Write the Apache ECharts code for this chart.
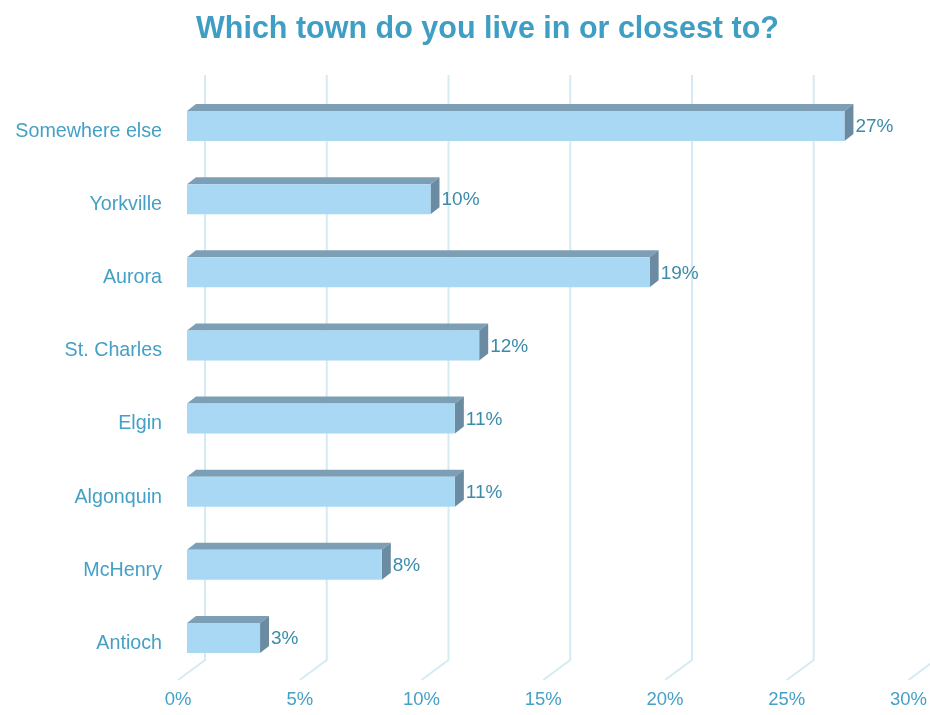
<!DOCTYPE html>
<html>
<head>
<meta charset="utf-8">
<script src="https://cdn.jsdelivr.net/npm/echarts@6/dist/echarts.min.js"></script>
<style>
  html, body { margin: 0; padding: 0; background: #fff; }
  #main { width: 930px; height: 715px; }
</style>
</head>
<body>
<div id="main"></div>
<script>
const categories = ['Somewhere else', 'Yorkville', 'Aurora', 'St. Charles', 'Elgin', 'Algonquin', 'McHenry', 'Antioch']
const values = [27, 10, 19, 12, 11, 11, 8, 3]
const tickValues = [0, 5, 10, 15, 20, 25, 30]

// oblique 3d look: floor depth and bar depth offsets (px)
const FLOOR = [27, -20]
const BAR_SHIFT = [9, -5.5]
const BAR_DEPTH = [9, -7]
const BAR_H = 30
const FONT = '"Liberation Sans", Arial, sans-serif'

const chart = echarts.init(document.getElementById('main'))

function renderWall(params, api) {
  const cs = params.coordSys
  const x = api.coord([api.value(0), 0])[0]
  const bottom = cs.y + cs.height
  return {
    type: 'polyline',
    shape: { points: [[x, bottom], [x + FLOOR[0], bottom + FLOOR[1]], [x + FLOOR[0], cs.y + FLOOR[1]]] },
    style: { stroke: '#d5ebf3', lineWidth: 2, fill: null }
  }
}

function renderBar(params, api) {
  const v = api.value(0)
  const i = api.value(1)
  const p0 = api.coord([0, i])
  const p1 = api.coord([v, i])
  const x0 = p0[0] + BAR_SHIFT[0]
  const x1 = p1[0] + BAR_SHIFT[0]
  const yc = p0[1] + BAR_SHIFT[1]
  const top = yc - BAR_H / 2
  const bot = yc + BAR_H / 2
  const dx = BAR_DEPTH[0], dy = BAR_DEPTH[1]
  return {
    type: 'group',
    children: [
      {
        type: 'polygon',
        shape: { points: [[x0, top], [x1, top], [x1 + dx, top + dy], [x0 + dx, top + dy]] },
        style: { fill: '#7c9fb5' }
      },
      {
        type: 'polygon',
        shape: { points: [[x1, top], [x1 + dx, top + dy], [x1 + dx, bot + dy], [x1, bot]] },
        style: { fill: '#6a8ba2' }
      },
      {
        type: 'rect',
        shape: { x: x0, y: top, width: x1 - x0, height: BAR_H },
        style: { fill: '#a8d8f4' }
      },
      {
        type: 'text',
        style: {
          text: v + '%', x: x1 + dx + 2, y: yc + 1,
          fill: '#3b8bab', font: '19px ' + FONT,
          align: 'left', verticalAlign: 'middle'
        }
      }
    ]
  }
}

chart.setOption({
  animation: false,
  title: {
    text: 'Which town do you live in or closest to?',
    left: 191,
    top: 9,
    textStyle: { color: '#3f9ec3', fontSize: 30.5, fontWeight: 'bold', fontFamily: FONT }
  },
  grid: { left: 178, right: 20, top: 95, bottom: 35 },
  xAxis: {
    type: 'value',
    min: 0,
    max: 30,
    interval: 5,
    axisLine: { show: false },
    axisTick: { show: false },
    splitLine: { show: false },
    axisLabel: { formatter: '{value}%', color: '#45a0c6', fontSize: 18.5, fontFamily: FONT, margin: 10 }
  },
  yAxis: {
    type: 'category',
    inverse: true,
    data: categories,
    axisLine: { show: false },
    axisTick: { show: false },
    axisLabel: { color: '#45a0c6', fontSize: 19.7, fontFamily: FONT, margin: 16 }
  },
  series: [
    {
      type: 'custom',
      renderItem: renderWall,
      data: tickValues.map(t => [t]),
      clip: false,
      silent: true,
      z: 1
    },
    {
      type: 'custom',
      renderItem: renderBar,
      data: values.map((v, i) => [v, i]),
      clip: false,
      z: 2
    }
  ]
})
</script>
</body>
</html>
